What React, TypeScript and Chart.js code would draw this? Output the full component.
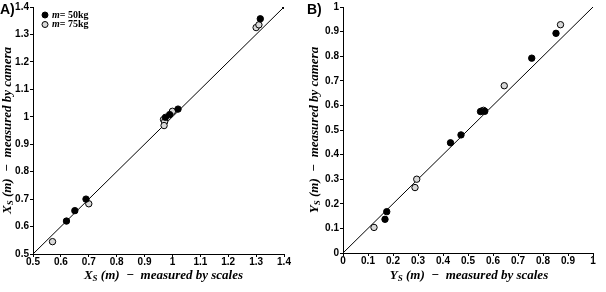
import React, { useEffect, useRef } from "react";
import { Chart, registerables } from "chart.js";

Chart.register(...registerables);

// ---------- data ----------
const leftHeavyX = [0.62, 0.65, 0.69, 0.975, 0.99, 1.02, 1.315];
const leftHeavyY = [0.62, 0.658, 0.70, 0.998, 1.008, 1.028, 1.357];
const leftLightX = [0.57, 0.70, 0.968, 0.972, 0.97, 1.0, 1.30, 1.31];
const leftLightY = [0.545, 0.683, 0.99, 0.982, 0.968, 1.02, 1.325, 1.335];
const leftLine = [0.5, 1.4];

const rightHeavyX = [0.168, 0.175, 0.43, 0.472, 0.55, 0.567, 0.755, 0.852];
const rightHeavyY = [0.137, 0.168, 0.448, 0.48, 0.575, 0.576, 0.792, 0.893];
const rightLightX = [0.124, 0.288, 0.295, 0.555, 0.562, 0.645, 0.87];
const rightLightY = [0.104, 0.266, 0.30, 0.577, 0.58, 0.68, 0.928];
const rightLine = [0, 1];

const legendLabels = ["50kg", "75kg"];
const panelLabels = ["A)", "B)"];
const leftXTitle = ["X", "S", " (m)  \u2212  measured by scales"];
const leftYTitle = ["X", "S", " (m)  \u2212  measured by camera"];
const rightXTitle = ["Y", "S", " (m)  \u2212  measured by scales"];
const rightYTitle = ["Y", "S", " (m)  \u2212  measured by camera"];

const toPts = (xs: number[], ys: number[]) => xs.map((x, i) => ({ x, y: ys[i] }));

const TITLE_FONT = "bold italic 13px 'Liberation Serif'";
const SUB_FONT = "bold italic 9px 'Liberation Serif'";

function drawPieces(ctx: CanvasRenderingContext2D, pieces: string[], cx: number, cy: number) {
  const parts = [
    { t: pieces[0], f: TITLE_FONT, dy: 0 },
    { t: pieces[1], f: SUB_FONT, dy: 3 },
    { t: pieces[2], f: TITLE_FONT, dy: 0 },
  ];
  let w = 0;
  parts.forEach((p) => {
    ctx.font = p.f;
    w += ctx.measureText(p.t).width;
  });
  let x = cx - w / 2;
  ctx.textBaseline = "middle";
  ctx.textAlign = "left";
  parts.forEach((p) => {
    ctx.font = p.f;
    ctx.fillText(p.t, x, cy + p.dy);
    x += ctx.measureText(p.t).width;
  });
}

const decorPlugin = {
  id: "decor",
  afterDraw(chart: any, _args: any, opts: any) {
    const ctx = chart.ctx as CanvasRenderingContext2D;
    const a = chart.chartArea;
    ctx.save();
    ctx.fillStyle = "#000";
    // panel label
    ctx.font = "bold 14px 'Liberation Sans'";
    ctx.textBaseline = "middle";
    ctx.textAlign = "left";
    ctx.fillText(opts.panel, opts.panelX, 10);
    // x title
    drawPieces(ctx, opts.xTitle, (a.left + a.right) / 2 + opts.xTitleOffset, 276);
    // y title
    ctx.save();
    ctx.translate(opts.yTitleX, (a.top + a.bottom) / 2);
    ctx.rotate(-Math.PI / 2);
    drawPieces(ctx, opts.yTitle, 0, 0);
    ctx.restore();
    // legend
    if (opts.legend) {
      const ds = chart.data.datasets;
      [0, 1].forEach((i) => {
        const d = ds[i];
        const mx = a.left + 12;
        const my = a.top + 8 + i * 9.5;
        ctx.beginPath();
        ctx.arc(mx, my, 3, 0, Math.PI * 2);
        ctx.fillStyle = d.backgroundColor;
        ctx.fill();
        ctx.lineWidth = 1;
        ctx.strokeStyle = "#000";
        ctx.stroke();
        ctx.fillStyle = "#000";
        ctx.textBaseline = "middle";
        ctx.font = "bold italic 10px 'Liberation Serif'";
        ctx.fillText("m", mx + 7, my);
        const w = ctx.measureText("m").width;
        ctx.font = "bold 10px 'Liberation Serif'";
        ctx.fillText("= " + d.label, mx + 7 + w, my);
      });
    }
    ctx.restore();
  },
};

const fmt = (v: any) => {
  const s = Number(v).toFixed(1);
  return s.endsWith(".0") ? s.slice(0, -2) : s;
};

function axis(min: number, max: number, fitKey: "width" | "height", fitVal: number, pad: number) {
  return {
    type: "linear",
    min,
    max,
    border: { display: true, color: "#000", width: 1 },
    grid: { drawOnChartArea: false, drawTicks: true, tickLength: 3, color: "#000" },
    ticks: {
      stepSize: 0.1,
      autoSkip: false,
      maxRotation: 0,
      color: "#000",
      padding: pad,
      font: { family: "'Liberation Sans'", weight: "bold", size: 10 },
      callback: fmt,
    },
    afterFit: (s: any) => {
      s[fitKey] = fitVal;
    },
  };
}

function makeConfig(p: any) {
  return {
    type: "scatter",
    data: {
      datasets: [
        {
          label: legendLabels[0],
          data: p.heavy,
          backgroundColor: "#000",
          borderColor: "#000",
          borderWidth: 1,
          pointRadius: 3.2,
          order: 1,
        },
        {
          label: legendLabels[1],
          data: p.light,
          backgroundColor: "#d9d9d9",
          borderColor: "#000",
          borderWidth: 1,
          pointRadius: 3.2,
          order: 2,
        },
        {
          type: "line",
          label: "line",
          data: p.line,
          borderColor: "#000",
          borderWidth: 1,
          backgroundColor: "#000",
          pointStyle: "rect",
          pointRadius: p.endRadius,
          showLine: true,
          fill: false,
          order: 3,
        },
      ],
    },
    options: {
      responsive: false,
      animation: false,
      events: [],
      layout: { padding: p.padding },
      plugins: {
        legend: { display: false },
        tooltip: { enabled: false },
        decor: p.decor,
      },
      scales: {
        x: axis(p.min, p.max, "height", p.xAxisH, -1),
        y: axis(p.min, p.max, "width", p.yAxisW, 1),
      },
    },
    plugins: [decorPlugin],
  };
}

function Panel({ cfg, left }: { cfg: any; left: number }) {
  const ref = useRef<HTMLCanvasElement>(null);
  useEffect(() => {
    const chart = new Chart(ref.current as HTMLCanvasElement, makeConfig(cfg) as any);
    return () => chart.destroy();
  }, []);
  return (
    <canvas
      ref={ref}
      width={303}
      height={292}
      style={{ position: "absolute", left, top: 0, width: 303, height: 292 }}
    />
  );
}

const leftCfg = {
  heavy: toPts(leftHeavyX, leftHeavyY),
  light: toPts(leftLightX, leftLightY),
  line: toPts(leftLine, leftLine),
  endRadius: [0, 2],
  min: 0.5,
  max: 1.4,
  xAxisH: 38,
  yAxisW: 33,
  padding: { left: 0, top: 5, right: 19, bottom: 0 },
  decor: { panel: panelLabels[0], panelX: 0, xTitle: leftXTitle, yTitle: leftYTitle, yTitleX: 8, xTitleOffset: 5, legend: true },
};

const rightCfg = {
  heavy: toPts(rightHeavyX, rightHeavyY),
  light: toPts(rightLightX, rightLightY),
  line: toPts(rightLine, rightLine),
  endRadius: 0,
  min: 0,
  max: 1,
  xAxisH: 39,
  yAxisW: 40,
  padding: { left: 0, top: 5, right: 13, bottom: 0 },
  decor: { panel: panelLabels[1], panelX: 4, xTitle: rightXTitle, yTitle: rightYTitle, yTitleX: 12, xTitleOffset: 1, legend: false },
};

export default function App() {
  return (
    <div style={{ position: "fixed", left: 0, top: 0, width: 606, height: 292, background: "#fff" }}>
      <Panel cfg={leftCfg} left={0} />
      <Panel cfg={rightCfg} left={303} />
    </div>
  );
}
